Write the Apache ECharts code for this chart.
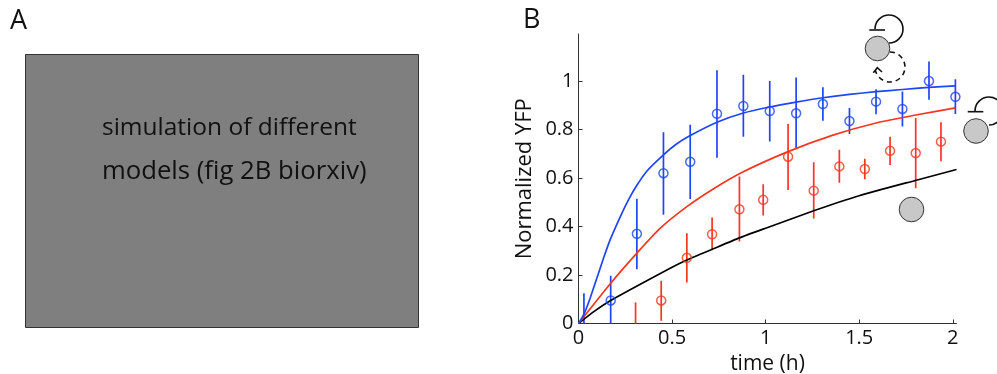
<!DOCTYPE html>
<html><head><meta charset="utf-8">
<style>html,body{margin:0;padding:0;background:#fff}#c{width:997px;height:374px}</style>
<script src="https://cdn.jsdelivr.net/npm/echarts@6/dist/echarts.min.js"></script>
</head><body><div id="c"></div>
<script>
const xTicks=[0,0.5,1,1.5,2];
const yTicks=[0,0.2,0.4,0.6,0.8,1];
const blueX=[0.029,0.172,0.312,0.454,0.597,0.74,0.881,1.022,1.163,1.306,1.448,1.59,1.731,1.873,2.014];
const blueY=[-0.01,0.095,0.37,0.62,0.667,0.865,0.897,0.876,0.867,0.905,0.835,0.915,0.885,1.0,0.935];
const blueHi=[0.125,0.197,0.514,0.789,0.82,1.045,1.026,1.0,1.015,0.974,0.889,0.966,0.957,1.081,1.007];
const blueLo=[-0.14,-0.01,0.224,0.449,0.513,0.684,0.77,0.751,0.72,0.836,0.782,0.863,0.812,0.923,0.864];
const redX=[0.305,0.442,0.579,0.714,0.86,0.987,1.12,1.257,1.394,1.53,1.665,1.802,1.937];
const redY=[-0.07,0.095,0.271,0.368,0.471,0.51,0.688,0.548,0.648,0.637,0.712,0.703,0.75];
const redHi=[0.087,0.176,0.372,0.437,0.606,0.574,0.823,0.665,0.717,0.679,0.77,0.848,0.83];
const redLo=[-0.2,0.011,0.169,0.302,0.338,0.445,0.551,0.433,0.581,0.595,0.654,0.558,0.669];
const blueCurve=[[0,0],[0.03,0.04],[0.0625,0.105],[0.134,0.27],[0.169,0.345],[0.223,0.44],[0.267,0.51],[0.312,0.57],[0.365,0.628],[0.454,0.695],[0.52,0.738],[0.597,0.775],[0.74,0.83],[0.881,0.868],[1.022,0.893],[1.163,0.913],[1.306,0.931],[1.448,0.945],[1.59,0.956],[1.731,0.965],[1.873,0.974],[2.014,0.98]];
const redCurve=[[0,0],[0.172,0.166],[0.312,0.29],[0.437,0.393],[0.579,0.482],[0.72,0.555],[0.87,0.622],[1.12,0.709],[1.36,0.777],[1.585,0.826],[1.802,0.86],[2.014,0.889]];
const blackCurve=[[0,0],[0.08,0.048],[0.172,0.095],[0.49,0.228],[0.579,0.262],[0.72,0.308],[0.86,0.353],[1.0,0.393],[1.257,0.465],[1.5,0.527],[1.8,0.59],[2.02,0.635]];
const BLUE='#1f45f5',RED='#f5371f',FONT='"Open Sans", sans-serif';
const zip=(a,b,c)=>a.map((v,i)=>c?[v,b[i],c[i]]:[v,b[i]]);
function errSeries(x,lo,hi,color){return {type:'custom',clip:true,silent:true,z:2,data:zip(x,lo,hi),
 renderItem:(p,api)=>{const a=api.coord([api.value(0),api.value(1)]),b=api.coord([api.value(0),api.value(2)]);
  return {type:'line',shape:{x1:a[0],y1:a[1],x2:b[0],y2:b[1]},style:{stroke:color,lineWidth:1.7}};}}}
function dots(x,y,color){return {type:'scatter',symbol:'circle',symbolSize:9,clip:true,z:4,silent:true,data:zip(x,y),
 itemStyle:{color:'rgba(0,0,0,0)',borderColor:color,borderWidth:1.5}}}
function curve(d,color){return {type:'line',data:d,showSymbol:false,smooth:0.2,silent:true,z:3,clip:false,lineStyle:{color:color,width:1.7}}}
const ink='#111',wireStyle={fill:'none',stroke:ink,lineWidth:1.6};
function node(cx,cy){return {type:'circle',shape:{cx,cy,r:12.3},style:{fill:'#c8c8c8',stroke:'#333',lineWidth:1}}}
function bar(x1,x2,y){return {type:'line',shape:{x1,y1:y,x2,y2:y},style:wireStyle}}
function loop(cx,cy,r,s,e,cw,dash){return {type:'arc',shape:{cx,cy,r,startAngle:s,endAngle:e,clockwise:cw},style:Object.assign({},wireStyle,dash?{lineDash:dash}:{})}}
const chart=echarts.init(document.getElementById('c'),null,{renderer:'canvas'});
chart.setOption({animation:false,backgroundColor:'#fff',
 grid:{left:578.5,right:40.5,top:34,bottom:50.5,containLabel:false,outerBoundsMode:'none'},
 xAxis:{type:'value',min:0,max:2.02,name:'time (h)',nameLocation:'middle',nameGap:29,
  nameTextStyle:{fontFamily:FONT,fontSize:21,color:'#111'},splitLine:{show:false},
  axisLine:{onZero:false,lineStyle:{color:'#333',width:1}},
  axisTick:{inside:true,length:4,customValues:xTicks,lineStyle:{color:'#333'}},
  axisLabel:{customValues:xTicks,fontFamily:FONT,fontSize:20,color:'#111',margin:5,hideOverlap:false}},
 yAxis:{type:'value',min:0,max:1.194,name:'Normalized YFP',nameLocation:'middle',nameGap:43,
  nameTextStyle:{fontFamily:FONT,fontSize:22,color:'#111'},splitLine:{show:false},
  axisLine:{onZero:false,lineStyle:{color:'#333',width:1}},
  axisTick:{inside:true,length:4,customValues:yTicks,lineStyle:{color:'#333'}},
  axisLabel:{customValues:yTicks,fontFamily:FONT,fontSize:20,color:'#111',margin:5,hideOverlap:false}},
 series:[errSeries(blueX,blueLo,blueHi,BLUE),errSeries(redX,redLo,redHi,RED),
  dots(blueX,blueY,BLUE),dots(redX,redY,RED),
  curve(blackCurve,'#000'),curve(redCurve,RED),curve(blueCurve,BLUE)],
 graphic:{elements:[
  {type:'text',x:10,y:8,style:{text:'A',fontFamily:FONT,fontSize:27,fill:'#111'}},
  {type:'text',x:523,y:7,style:{text:'B',fontFamily:FONT,fontSize:27,fill:'#111'}},
  {type:'rect',shape:{x:25.5,y:54.5,width:393,height:273},style:{fill:'#7f7f7f',stroke:'#333',lineWidth:1}},
  {type:'text',x:102,y:116,style:{text:'simulation of different',fontFamily:FONT,fontSize:24.5,fill:'#111'}},
  {type:'text',x:102,y:159,style:{text:'models (fig 2B biorxiv)',fontFamily:FONT,fontSize:25.7,fill:'#111'}},
  node(911.5,209.5),node(877.5,48.5),node(976,131),
  bar(869.3,885,30),loop(889,29,14,Math.PI/2,Math.PI,false),
  loop(890,67,15,-Math.PI/2,Math.PI-0.25,true,[5,4]),
  {type:'polyline',shape:{points:[[873.3,72.7],[877.3,67.7],[882,72]]},style:wireStyle},
  bar(967.7,983.3,111.7),loop(989,111,14,Math.PI/2,Math.PI,false)
 ]}
});
</script></body></html>
